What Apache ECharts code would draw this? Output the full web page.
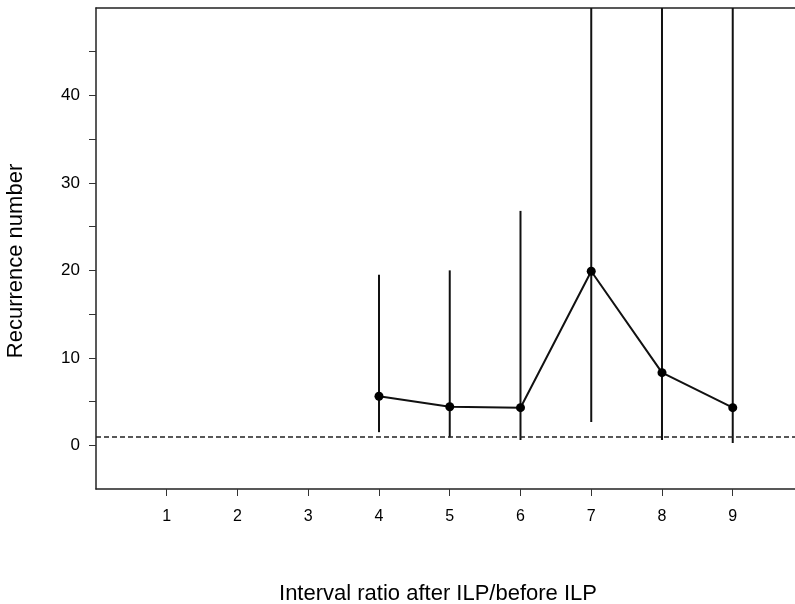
<!DOCTYPE html>
<html>
<head>
<meta charset="utf-8">
<script src="https://cdn.jsdelivr.net/npm/echarts@6/dist/echarts.min.js"></script>
<style>html,body{margin:0;padding:0;background:#fff;overflow:hidden}#c{width:795px;height:604px}</style>
</head>
<body>
<div id="c"></div>
<script>
var xValues = [4, 5, 6, 7, 8, 9];
var meanValues = [5.6, 4.4, 4.3, 19.9, 8.3, 4.3];
var lowerValues = [1.5, 0.9, 0.6, 2.65, 0.6, 0.25];
var upperValues = [19.5, 20.0, 26.8, 60, 60, 60];
var referenceLine = 1;
var xTicks = [1, 2, 3, 4, 5, 6, 7, 8, 9];
var yLabelTicks = [0, 10, 20, 30, 40];
var yTicks = [0, 5, 10, 15, 20, 25, 30, 35, 40, 45];
var xTitle = 'Interval ratio after ILP/before ILP';
var yTitle = 'Recurrence number';

var chart = echarts.init(document.getElementById('c'), null, {renderer: 'canvas'});
var errData = xValues.map(function (x, i) { return [x, lowerValues[i], upperValues[i]]; });
var lineData = xValues.map(function (x, i) { return [x, meanValues[i]]; });

chart.setOption({
  animation: false,
  backgroundColor: '#fff',
  grid: {left: 96, top: 8, bottom: 115, right: 0, show: false, containLabel: false, outerBoundsMode: 'none'},
  graphic: [
    {type: 'text', x: 438, y: 594, style: {text: xTitle, fontFamily: 'Liberation Sans Narrow, Liberation Sans', fontSize: 22, fill: '#000', align: 'center', verticalAlign: 'middle'}},
    {type: 'text', x: 16, y: 261, rotation: Math.PI / 2, style: {text: yTitle, fontFamily: 'Liberation Sans', fontSize: 22, fill: '#000', align: 'center', verticalAlign: 'middle'}}
  ],
  xAxis: [{
    type: 'value', min: 0, max: 9.88, interval: 1,
    axisLine: {show: true, onZero: false, lineStyle: {color: '#222', width: 1.5}},
    axisTick: {show: true, length: 7, lineStyle: {color: '#333', width: 1}, customValues: xTicks},
    axisLabel: {fontFamily: 'Liberation Sans', fontSize: 16, color: '#000', margin: 20, customValues: xTicks},
    splitLine: {show: false}
  }, {
    type: 'value', min: 0, max: 9.88, interval: 1, position: 'top',
    axisLine: {show: true, onZero: false, lineStyle: {color: '#222', width: 1.5}},
    axisTick: {show: false}, axisLabel: {show: false}, splitLine: {show: false}
  }],
  yAxis: {
    type: 'value', min: -5, max: 50, interval: 5,
    axisLine: {show: true, onZero: false, lineStyle: {color: '#222', width: 1.5}},
    axisTick: {show: true, length: 7, lineStyle: {color: '#333', width: 1}, customValues: yTicks},
    axisLabel: {fontFamily: 'Liberation Sans', fontSize: 17, color: '#000', margin: 16, customValues: yLabelTicks},
    splitLine: {show: false}
  },
  series: [
    {
      type: 'custom',
      clip: true,
      data: errData,
      renderItem: function (params, api) {
        var x = api.value(0);
        var lo = api.coord([x, api.value(1)]);
        var hi = api.coord([x, api.value(2)]);
        return {
          type: 'line',
          shape: {x1: lo[0], y1: lo[1], x2: hi[0], y2: hi[1]},
          style: {stroke: '#111', lineWidth: 2}
        };
      },
      z: 2
    },
    {
      type: 'line',
      data: lineData,
      symbol: 'circle', symbolSize: 9,
      itemStyle: {color: '#000'},
      lineStyle: {color: '#111', width: 2},
      z: 3,
      markLine: {
        silent: true, symbol: 'none', label: {show: false},
        lineStyle: {color: '#222', type: [5, 3], width: 1.5},
        data: [{yAxis: referenceLine}]
      }
    }
  ]
});
</script>
</body>
</html>
